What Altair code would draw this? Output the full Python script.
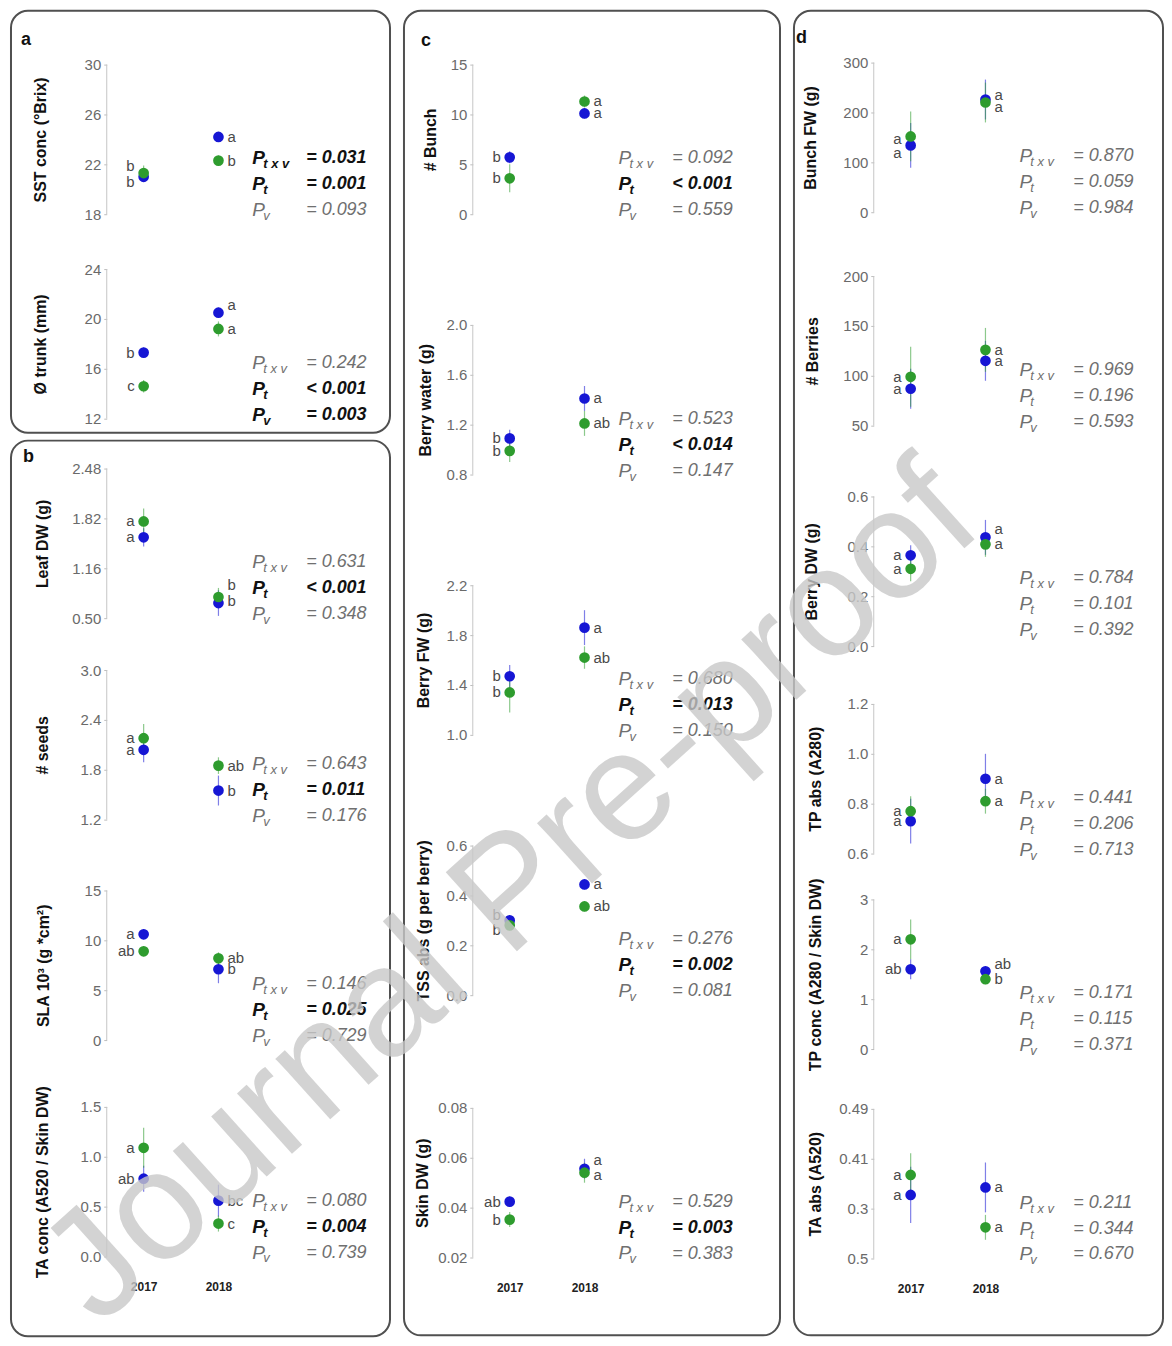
import altair as alt
import pandas as pd

# ---------------------------------------------------------------- data
YEARS = [2017, 2018]

Y_TITLES = ["SST conc (°Brix)", "Ø trunk (mm)", "Leaf DW (g)", "# seeds",
            "SLA 10³ (g *cm²)", "TA conc (A520 / Skin DW)", "# Bunch",
            "Berry water (g)", "Berry FW (g)", "TSS abs (g per berry)",
            "Skin DW (g)", "Bunch FW (g)", "# Berries", "Berry DW (g)",
            "TP abs (A280)", "TP conc (A280 / Skin DW)", "TA abs (A520)"]

Y_TICKS = [[18, 22, 26, 30], [12, 16, 20, 24], [0.50, 1.16, 1.82, 2.48],
           [1.2, 1.8, 2.4, 3.0], [0, 5, 10, 15], [0.0, 0.5, 1.0, 1.5],
           [0, 5, 10, 15], [0.8, 1.2, 1.6, 2.0], [1.0, 1.4, 1.8, 2.2],
           [0.0, 0.2, 0.4, 0.6], [0.02, 0.04, 0.06, 0.08], [0, 100, 200, 300],
           [50, 100, 150, 200], [0.0, 0.2, 0.4, 0.6], [0.6, 0.8, 1.0, 1.2],
           [0, 1, 2, 3], [0.25, 0.33, 0.41, 0.49]]

Y_TICK_LABELS = [["18", "22", "26", "30"], ["12", "16", "20", "24"],
                 ["0.50", "1.16", "1.82", "2.48"], ["1.2", "1.8", "2.4", "3.0"],
                 ["0", "5", "10", "15"], ["0.0", "0.5", "1.0", "1.5"],
                 ["0", "5", "10", "15"], ["0.8", "1.2", "1.6", "2.0"],
                 ["1.0", "1.4", "1.8", "2.2"], ["0.0", "0.2", "0.4", "0.6"],
                 ["0.02", "0.04", "0.06", "0.08"], ["0", "100", "200", "300"],
                 ["50", "100", "150", "200"], ["0.0", "0.2", "0.4", "0.6"],
                 ["0.6", "0.8", "1.0", "1.2"], ["0", "1", "2", "3"],
                 ["0.5", "0.3", "0.41", "0.49"]]

BLUE_2017 = [21.0, 17.3, 1.57, 2.04, 10.6, 0.78, 5.7, 1.09, 1.47, 0.30, 0.0424,
             134, 87, 0.364, 0.73, 1.60, 0.352]
GREEN_2017 = [21.3, 14.6, 1.78, 2.18, 8.9, 1.09, 3.6, 0.99, 1.34, 0.28, 0.0352,
              152, 99, 0.31, 0.77, 2.20, 0.384]
BLUE_2018 = [24.2, 20.5, 0.70, 1.55, 7.1, 0.56, 10.1, 1.41, 1.86, 0.444, 0.0556,
             226, 115, 0.436, 0.90, 1.56, 0.364]
GREEN_2018 = [22.3, 19.2, 0.78, 1.85, 8.2, 0.33, 11.3, 1.21, 1.62, 0.356, 0.054,
              220, 126, 0.408, 0.81, 1.40, 0.30]

BLUE_ERR_2017 = [0.4, 0.4, 0.12, 0.15, 0.5, 0.13, 0.6, 0.07, 0.09, 0.02, 0.002,
                 45, 20, 0.04, 0.09, 0.2, 0.045]
GREEN_ERR_2017 = [0.6, 0.5, 0.17, 0.17, 0.5, 0.2, 1.4, 0.09, 0.16, 0.02, 0.003,
                  50, 30, 0.05, 0.06, 0.4, 0.035]
BLUE_ERR_2018 = [0.4, 0.4, 0.17, 0.18, 1.4, 0.16, 0.5, 0.1, 0.14, 0.02, 0.004,
                 40, 20, 0.07, 0.1, 0.1, 0.04]
GREEN_ERR_2018 = [0.4, 0.6, 0.12, 0.1, 0.6, 0.08, 0.6, 0.1, 0.09, 0.02, 0.004,
                  40, 22, 0.05, 0.05, 0.1, 0.02]

BLUE_LET_2017 = ["b", "b", "a", "a", "a", "ab", "b", "b", "b", "b", "ab",
                 "a", "a", "a", "a", "ab", "a"]
GREEN_LET_2017 = ["b", "c", "a", "a", "ab", "a", "b", "b", "b", "b", "b",
                  "a", "a", "a", "a", "a", "a"]
BLUE_LET_2018 = ["a", "a", "b", "b", "b", "bc", "a", "a", "a", "a", "a",
                 "a", "a", "a", "a", "ab", "a"]
GREEN_LET_2018 = ["b", "a", "b", "ab", "ab", "c", "a", "ab", "ab", "ab", "a",
                  "a", "a", "a", "a", "b", "a"]

P_TXV = ["= 0.031", "= 0.242", "= 0.631", "= 0.643", "= 0.146", "= 0.080",
         "= 0.092", "= 0.523", "= 0.680", "= 0.276", "= 0.529", "= 0.870",
         "= 0.969", "= 0.784", "= 0.441", "= 0.171", "= 0.211"]
P_T = ["= 0.001", "< 0.001", "< 0.001", "= 0.011", "= 0.025", "= 0.004",
       "< 0.001", "< 0.014", "= 0.013", "= 0.002", "= 0.003", "= 0.059",
       "= 0.196", "= 0.101", "= 0.206", "= 0.115", "= 0.344"]
P_V = ["= 0.093", "= 0.003", "= 0.348", "= 0.176", "= 0.729", "= 0.739",
       "= 0.559", "= 0.147", "= 0.150", "= 0.081", "= 0.383", "= 0.984",
       "= 0.593", "= 0.392", "= 0.713", "= 0.371", "= 0.670"]
P_SUBS = ["t x v", "t", "v"]
SECTIONS = ["a", "b", "c", "d"]
WATERMARK = "Journal Pre-proof"

# ---------------------------------------------------------------- style / layout
BLUE, GREEN = "#1616d4", "#2e9c2e"
PLOT_H = 150
PANEL_W = 270
PANEL_TOP = 30
PX_PER_YEAR = 75.0
X_2017 = 37.0
TITLE_X = [-66, -66, -64, -64, -63, -64, -42, -47, -49, -49, -50,
           -63, -61, -62, -58, -58, -58]
P_BASE = {13: -68}
LETTER_NUDGE = {(0, 2017, "green"): -7, (0, 2017, "blue"): 5,
                (1, 2018, "blue"): -8,
                (2, 2018, "green"): -12, (2, 2018, "blue"): -2,
                (9, 2017, "blue"): -5, (9, 2017, "green"): 5,
                (10, 2018, "blue"): -9, (10, 2018, "green"): 2,
                (11, 2018, "blue"): -5, (11, 2018, "green"): 5,
                (11, 2017, "green"): 3, (11, 2017, "blue"): 8,
                (13, 2018, "blue"): -8, (15, 2018, "blue"): -7}

COLUMNS = [
    dict(idx=[0, 1, 2, 3, 4, 5], top_ticks=[65, 270, 470, 672, 893, 1110]),
    dict(idx=[6, 7, 8, 9, 10], top_ticks=[65, 326, 587, 848, 1111]),
    dict(idx=[11, 12, 13, 14, 15, 16], top_ticks=[63, 277, 498, 706, 902, 1112]),
]
# frames (relative to first panel of the section) and section labels
FRAMES = {0: (-96, 284, -19, 404), 2: (-96, 284, 22, 920),
          6: (-69, 308, -19, 1309), 11: (-80, 290, -19, 1309)}
SEC_LABELS = {0: ("a", -86, 10), 2: ("b", -84, 38), 6: ("c", -52, 11), 11: ("d", -78, 8)}

# watermark placement: shift along x only (dx, dy are applied in the rotated frame)
WM_SIZE = 155
WM_SHIFT = 89
WM_OFFSET = -2238

cscale = alt.Scale(domain=["blue", "green"], range=[BLUE, GREEN])


def label_expr(vals, labs):
    s = ""
    for v, l in zip(vals, labs):
        s += f"abs(datum.value - ({v})) < 1e-9 ? '{l}' : "
    return s + "''"


def frame_layer(x1, x2, y1, y2):
    return alt.Chart(pd.DataFrame({"k": [0]})).mark_rect(
        fill="transparent", stroke="#505050", strokeWidth=2, cornerRadius=17
    ).encode(x=alt.value(x1), x2=alt.value(x2), y=alt.value(y1), y2=alt.value(y2))


def sec_label_layer(t, x, y):
    return alt.Chart(pd.DataFrame({"t": [t]})).mark_text(
        align="left", baseline="middle", fontSize=18, fontWeight="bold", color="#111"
    ).encode(x=alt.value(x), y=alt.value(y), text="t:N")


def panel(i, gap, bottom):
    ticks = Y_TICKS[i]
    lo, hi = ticks[0], ticks[-1]
    H = gap + PLOT_H
    top = hi + (hi - lo) * gap / PLOT_H
    ysc = alt.Scale(domain=[lo, top], nice=False, zero=False)
    yax = alt.Axis(values=ticks, labelExpr=label_expr(ticks, Y_TICK_LABELS[i]),
                   title=Y_TITLES[i], domain=False, grid=False,
                   tickColor="#bdbdbd", tickSize=3, labelColor="#6a6a6a",
                   labelFontSize=15, labelPadding=3, labelOverlap=False,
                   labelFlush=False, titleFontSize=16, titleFontWeight="bold",
                   titleColor="#111", titleAngle=270, titleAlign="center",
                   titleBaseline="middle", titleX=TITLE_X[i], titleY=gap + PLOT_H / 2)
    x0 = 2017 - X_2017 / PX_PER_YEAR
    x1 = 2017 + (PANEL_W - X_2017) / PX_PER_YEAR
    xsc = alt.Scale(domain=[x0, x1], nice=False, zero=False)
    if bottom:
        xax = alt.Axis(values=YEARS, format="d", domain=False, ticks=False, grid=False,
                       labelFontWeight="bold", labelFontSize=12, labelColor="#222",
                       labelPadding=25, labelFlush=False, title=None)
    else:
        xax = None

    def X():
        return alt.X("year:Q", scale=xsc, axis=xax)

    def Y(f):
        return alt.Y(f"{f}:Q", scale=ysc, axis=yax)

    C = alt.Color("series:N", scale=cscale, legend=None)
    units_per_px = (top - lo) / H
    rows = []
    for s, m17, m18, e17, e18, l17, l18 in [
        ("blue", BLUE_2017, BLUE_2018, BLUE_ERR_2017, BLUE_ERR_2018, BLUE_LET_2017, BLUE_LET_2018),
        ("green", GREEN_2017, GREEN_2018, GREEN_ERR_2017, GREEN_ERR_2018, GREEN_LET_2017, GREEN_LET_2018),
    ]:
        for yr, m, e, l in [(2017, m17[i], e17[i], l17[i]), (2018, m18[i], e18[i], l18[i])]:
            nud = LETTER_NUDGE.get((i, yr, s), 0)
            rows.append(dict(series=s, year=yr, mean=m, lower=m - e, upper=m + e,
                             letter=l, ly=m - nud * units_per_px))
    df = pd.DataFrame(rows)

    layers = []
    if i in FRAMES:
        layers.append(frame_layer(*FRAMES[i]))
        t, lx, ly = SEC_LABELS[i]
        layers.append(sec_label_layer(t, lx, ly))

    layers.append(alt.Chart(pd.DataFrame({"lo": [lo], "hi": [hi]})).mark_rule(
        color="#c6c6c6", strokeWidth=1).encode(x=alt.value(0), y=Y("lo"), y2=alt.Y2("hi")))
    layers.append(alt.Chart(df).mark_rule(strokeWidth=1.2, opacity=0.55).encode(
        x=X(), y=Y("lower"), y2=alt.Y2("upper"), color=C))
    layers.append(alt.Chart(df).mark_circle(size=115, opacity=1).encode(
        x=X(), y=Y("mean"), color=C))
    layers.append(alt.Chart(df[df.year == 2017]).mark_text(
        align="right", baseline="middle", dx=-9, fontSize=15, color="#4a4a4a").encode(
        x=X(), y=Y("ly"), text="letter:N"))
    layers.append(alt.Chart(df[df.year == 2018]).mark_text(
        align="left", baseline="middle", dx=9, fontSize=15, color="#4a4a4a").encode(
        x=X(), y=Y("ly"), text="letter:N"))

    base = P_BASE.get(i, -56)
    for r, (sub, val) in enumerate(zip(P_SUBS, [P_TXV[i], P_T[i], P_V[i]])):
        sig = float(val[2:]) < 0.05
        col = "#111111" if sig else "#707070"
        fw = "bold" if sig else "normal"
        yy = H + base + 26 * r
        d = alt.Chart(pd.DataFrame({"p": ["P"], "s": [sub], "v": [val]}))
        layers.append(d.mark_text(align="left", baseline="middle", fontSize=19,
                                  fontStyle="italic", fontWeight=fw, color=col).encode(
            x=alt.value(146), y=alt.value(yy), text="p:N"))
        layers.append(d.mark_text(align="left", baseline="middle", fontSize=13,
                                  fontStyle="italic", fontWeight=fw, color=col).encode(
            x=alt.value(157), y=alt.value(yy + 6), text="s:N"))
        layers.append(d.mark_text(align="left", baseline="middle", fontSize=18,
                                  fontStyle="italic", fontWeight=fw, color=col).encode(
            x=alt.value(200), y=alt.value(yy), text="v:N"))

    return alt.layer(*layers).properties(width=PANEL_W, height=H)


columns = []
for col in COLUMNS:
    panels = []
    prev_top = PANEL_TOP
    n = len(col["idx"])
    for k, (i, tt) in enumerate(zip(col["idx"], col["top_ticks"])):
        gap = tt - prev_top
        panels.append(panel(i, gap, k == n - 1))
        prev_top = tt + PLOT_H
    columns.append(alt.vconcat(*panels, spacing=0, bounds="flush"))

COS42, SIN42 = 0.7431, 0.6691
chart = alt.hconcat(*columns, spacing=12).properties(
    padding={"left": 2, "top": 0, "right": 0, "bottom": 0},
    title=alt.TitleParams(text=WATERMARK, fontSize=WM_SIZE, font="Liberation Sans",
                          fontWeight="normal", color="rgba(200,200,200,0.8)",
                          angle=318, anchor="start", align="left",
                          baseline="alphabetic", frame="bounds", orient="top",
                          offset=WM_OFFSET, dx=WM_SHIFT * COS42, dy=WM_SHIFT * SIN42,
                          zindex=1),
).configure(font="Liberation Sans", background="white").configure_view(stroke=None)

chart.save("out.html", embed_options={"renderer": "svg", "actions": False})
